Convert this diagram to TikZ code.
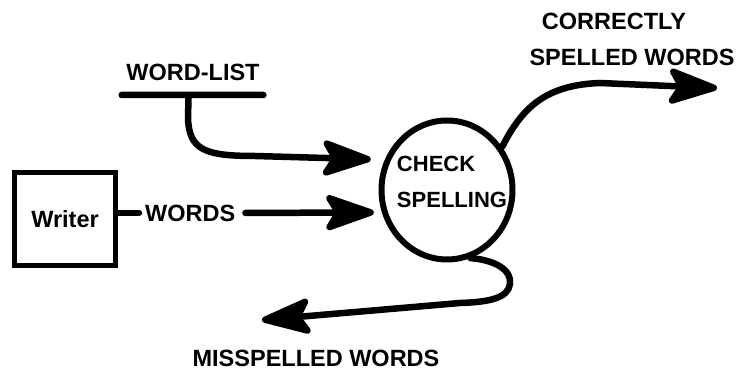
\documentclass[tikz,border=0pt]{standalone}
\usepackage{fontspec}
\setmainfont{Liberation Sans}
\usetikzlibrary{arrows.meta,shapes.geometric}
\begin{document}
\begin{tikzpicture}[x=1pt,y=-1pt,
  lbl/.style={font=\fontsize{23.5}{27}\selectfont\bfseries, inner sep=2pt},
  flow/.style={line width=6.5pt, line cap=round,
    -{Stealth[length=58pt,width=40pt,inset=12pt,round]}}]
\useasboundingbox (0,0) rectangle (737,371);
% writer
\node[draw, line width=5.5pt, minimum width=101pt, minimum height=93pt, lbl] (writer) at (65,219) {Writer};
\node[lbl, anchor=west] (words) at (143,213) {WORDS};
\draw[line width=6.5pt, line cap=round] (writer.east |- words.west) -- ([xshift=-4pt]words.west);
% data store
\node[fill=black, minimum width=148pt, minimum height=6.5pt, inner sep=0pt, rounded corners=3pt] (store) at (192.5,95) {};
\node[lbl] (wl) at (193,72) {WORD-LIST};
% process
\node[draw, ellipse, line width=6pt, minimum width=131pt, minimum height=139pt] (check) at (447,190) {};
\node[font=\fontsize{22}{36}\selectfont\bfseries, inner sep=2pt, align=left] (checktxt) at (452,182) {CHECK\\SPELLING};
% flows
\draw[flow, shorten >=14pt] ([xshift=-4pt]store.south) -- (188,118)
  .. controls (189,150) and (205,156) .. (255,156) -- (check.154);
\draw[flow, shorten <=8pt, shorten >=8pt] (words.east) -- (check.199);
\coordinate (corrEnd) at (717,88);
\draw[flow] (check.38) .. controls (522,108) and (545,85) .. (600,83) -- (corrEnd);
\node[lbl] (corr1) at (614,21) {CORRECTLY};
\node[lbl] (corr2) at (632,57) {SPELLED WORDS};
\coordinate (missEnd) at (262,320);
\draw[flow] (check.289) .. controls (495,260) and (512,270) .. (510,284)
  .. controls (508,298) and (490,302) .. (460,303) -- (missEnd);
\node[lbl] (miss) at (316,358) {MISSPELLED WORDS};
\end{tikzpicture}
\end{document}
